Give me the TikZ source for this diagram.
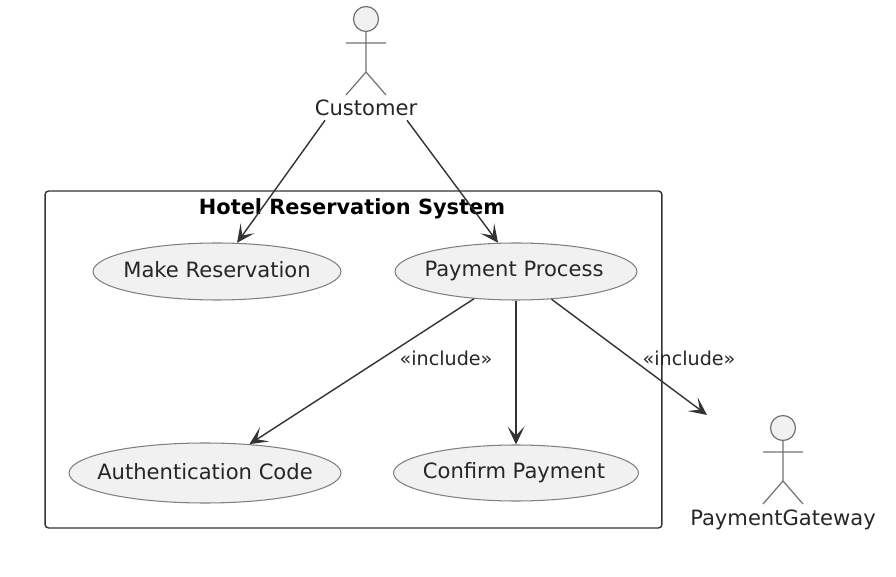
\documentclass[tikz,border=0pt]{standalone}
\usepackage{fontspec}
\setmainfont{DejaVu Sans}
\usetikzlibrary{positioning,arrows.meta,calc,shapes.geometric}

\definecolor{ucfill}{HTML}{F1F1F1}
\definecolor{ucline}{HTML}{333333}
% Zero-width label so the ellipse keeps its given size
\newcommand{\uclabel}[2][0cm]{\makebox[0pt]{\hspace*{#1}\raisebox{0.07cm}{#2}}}

\begin{document}
\begin{tikzpicture}[
  x=0.02cm, y=-0.02cm,
  every node/.style={font=\fontsize{12pt}{14pt}\selectfont, text=black!85, inner sep=0pt},
  usecase/.style={
    ellipse,
    draw=black!50,
    fill=ucfill,
    line width=0.6pt
  },
  sysbox/.style={
    draw=ucline,
    rounded corners=2pt,
    line width=0.8pt
  },
  arr/.style={-{Stealth[length=3.6mm, width=3.4mm, inset=1.8mm]}, line width=0.8pt, draw=ucline},
  arrlabel/.style={font=\fontsize{10.9pt}{13pt}\selectfont},
  actor/.pic={
    \draw[draw=black!55, fill=ucfill, line width=0.7pt] (0,-88) circle (12.5);
    \draw[draw=black!55, line width=0.7pt] (-20,-64) -- (20,-64)
      (0,-75.5) -- (0,-35) (-20,-12) -- (0,-35) -- (20,-12);
  }
]

\useasboundingbox (0,0) rectangle (896,577);

% System frame with its title
\node[sysbox, minimum width=12.34cm, minimum height=6.74cm] (system) at (353.5,359.5) {};
\node[font=\fontsize{11.9pt}{14pt}\selectfont\bfseries, text=black] (systitle) at (352,209) {Hotel Reservation System};

% Use cases
\node[usecase, minimum width=4.96cm, minimum height=1.14cm] (makeres) at (217,271.5) {\uclabel{Make Reservation}};
\node[usecase, minimum width=4.84cm, minimum height=1.14cm] (payproc) at (516,271.5) {\uclabel[-0.08cm]{Payment Process}};
\node[usecase, minimum width=5.44cm, minimum height=1.20cm] (authcode) at (205,473) {\uclabel{Authentication Code}};
\node[usecase, minimum width=4.90cm, minimum height=1.12cm] (confirm) at (516,473) {\uclabel[-0.08cm]{Confirm Payment}};

% Actors: stick figure above the name
\pic at (366,107) {actor};
\node (customer) at (366,108) {Customer};
\pic at (783,516) {actor};
\node (gateway) at (783,520) {PaymentGateway};

\coordinate (gatewaytip) at (707,415);

% Connectors
\draw[arr] ($(customer.south)+(-41,4)$) -- (makeres.55.5);
\draw[arr] ($(customer.south)+(41,4)$) -- (payproc.122);
\draw[arr] (payproc.-147) -- (authcode.33);
\draw[arr] (payproc.south) -- (confirm.north);
\draw[arr] (payproc.-38) -- (gatewaytip);

\node[arrlabel] (incauth) at (446,358) {«include»};
\node[arrlabel] (incgate) at (689,358) {«include»};

\end{tikzpicture}
\end{document}
